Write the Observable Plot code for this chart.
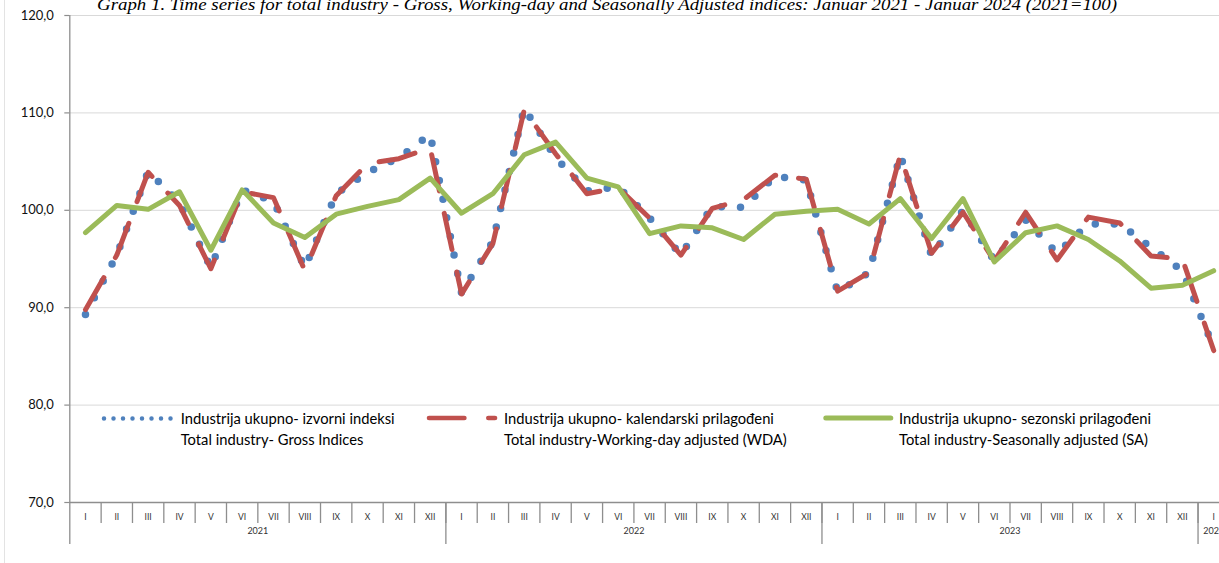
<!DOCTYPE html>
<html><head><meta charset="utf-8">
<script src="https://cdn.jsdelivr.net/npm/d3@7"></script>
<script src="https://cdn.jsdelivr.net/npm/@observablehq/plot@0.6"></script>
<style>
html,body{margin:0;padding:0;background:#fff;overflow:hidden;}
#wrap{position:relative;width:1219px;height:563px;overflow:hidden;font-family:Lato, "Liberation Sans", sans-serif;background:#fff;}
#title{position:absolute;left:0;top:0;height:0;z-index:2;}
#title span{position:absolute;left:96.7px;top:-4px;font:italic 17px/17px "Liberation Serif", serif;white-space:nowrap;transform-origin:0 0;color:#000;}
.leg{position:absolute;font-size:13.8px;line-height:21px;color:#000;white-space:nowrap;}
.leg span{display:inline-block;}
.sw{position:absolute;overflow:visible;}
#border{position:absolute;left:4px;top:0;width:1px;height:563px;background:#e3e3e3;z-index:2;}
#chart{position:absolute;left:0;top:0;}
</style></head><body>
<div id="wrap">
  <div id="chart"></div>
  <div id="border"></div>
  <div id="title"><span id="tt">Graph 1. Time series for total industry - Gross, Working-day and Seasonally Adjusted indices: Januar 2021 - Januar 2024 (2021=100)</span></div>
  <svg class="sw" style="left:100px;top:414px" width="80" height="9"><line x1="4" y1="4.5" x2="71" y2="4.5" stroke="#4f81bd" stroke-width="4.5" stroke-linecap="round" stroke-dasharray="0,9.5"/></svg>
  <div class="leg" style="left:180.7px;top:408px"><span id="l1">Industrija ukupno- izvorni indeksi</span><br>Total industry- Gross Indices</div>
  <svg class="sw" style="left:420px;top:413px" width="85" height="10"><line x1="9.05" y1="5" x2="75" y2="5" stroke="#c0504d" stroke-width="4.7" stroke-linecap="round" stroke-dasharray="35.3,24"/></svg>
  <div class="leg" style="left:504px;top:408px">Industrija ukupno- kalendarski prilagođeni<br>Total industry-Working-day adjusted (WDA)</div>
  <svg class="sw" style="left:815px;top:413px" width="85" height="10"><line x1="10.8" y1="5" x2="75.8" y2="5" stroke="#9bbb59" stroke-width="5" stroke-linecap="round"/></svg>
  <div class="leg" style="left:899px;top:408px">Industrija ukupno- sezonski prilagođeni<br>Total industry-Seasonally adjusted (SA)</div>
</div>
<script>
// ---- data ----
const months = ["I","II","III","IV","V","VI","VII","VIII","IX","X","XI","XII"];
const years = ["2021","2022","2023","2024"];
const gross = [89.3, 95.4, 104.0, 100.8, 94.1, 102.1, 100.9, 94.1, 101.7, 103.9, 105.4, 107.8,
               91.5, 96.8, 110.5, 105.4, 102.0, 102.4, 99.2, 95.4, 100.4, 100.3, 103.5, 103.1,
               91.6, 93.6, 105.7, 95.3, 100.0, 94.8, 99.0, 95.6, 98.6, 98.6, 96.2, 93.8,
               85.9];
const wda   = [89.8, 95.4, 103.9, 100.5, 94.0, 101.9, 101.3, 93.8, 101.5, 104.8, 105.3, 106.4,
               91.4, 96.6, 110.3, 105.8, 101.7, 102.3, 99.2, 95.4, 100.2, 101.1, 103.6, 103.2,
               91.7, 93.6, 105.7, 95.6, 99.8, 94.8, 99.8, 94.9, 99.3, 98.7, 95.3, 95.0,
               85.6];
const sa    = [97.7, 100.5, 100.1, 101.9, 95.9, 102.1, 98.7, 97.2, 99.6, 100.4, 101.1, 103.3,
               99.7, 101.7, 105.7, 107.0, 103.3, 102.4, 97.6, 98.4, 98.2, 97.0, 99.6, 99.9,
               100.1, 98.6, 101.2, 97.1, 101.2, 94.7, 97.7, 98.4, 97.0, 94.8, 92.0, 92.3,
               93.8];
const yTicks = [70, 80, 90, 100, 110, 120];

// ---- build table ----
const n = gross.length;
const rows = d3.range(n).map(i => ({t: i + 0.5, gross: gross[i], wda: wda[i], sa: sa[i]}));
const gridTicks = yTicks.slice(1);
const monthEdges = d3.range(1, n);
const yearEdges = d3.range(0, n, 12);
const monthCenters = d3.range(n).map(i => i + 0.5);
const yearCenters = years.map((y, k) => {
  const a = k * 12, b = Math.min(n, a + 12);
  return (a + b) / 2;
});
const axisColor = "#8e8e8e";

const chart = Plot.plot({
  width: 1219,
  height: 563,
  marginLeft: 69.3,
  marginRight: 0,
  marginTop: 15,
  marginBottom: 61,
  style: {fontFamily: "Lato, 'Liberation Sans', sans-serif", background: "#fff", color: "#000"},
  x: {type: "linear", domain: [0, n], range: [69.3, 69.3 + 31.34 * n], label: null},
  y: {domain: [70, 120], label: null},
  marks: [
    Plot.ruleY(gridTicks, {stroke: "#d9d9d9", strokeWidth: 1}),
    // month separators
    Plot.axisX({ticks: monthEdges, tickSize: 21, tickFormat: () => "", label: null, stroke: axisColor, strokeWidth: 1.3}),
    // year separators
    Plot.axisX({ticks: yearEdges, tickSize: 42, tickFormat: () => "", label: null, stroke: axisColor, strokeWidth: 1.3}),
    // month labels
    Plot.axisX({ticks: monthCenters, tickSize: 0, tickPadding: 11, fontSize: 8.5, fill: "#333", label: null,
                tickFormat: d => months[Math.floor(d) % 12]}),
    // year labels
    Plot.axisX({ticks: yearCenters, tickSize: 0, tickPadding: 25, fontSize: 9, fill: "#333", label: null,
                tickFormat: d => years[Math.floor(d / 12)]}),
    Plot.axisY({ticks: yTicks, tickSize: 5, tickPadding: 11, fontSize: 13, stroke: axisColor, strokeWidth: 1.2, fill: "#111", label: null,
                tickFormat: d => d.toFixed(1).replace(".", ",")}),
    Plot.ruleX([0], {y1: 70, y2: 120, stroke: axisColor, strokeWidth: 1.3}),
    Plot.ruleY([70], {stroke: axisColor, strokeWidth: 1.3}),
    Plot.line(rows, {x: "t", y: "gross", stroke: "#4f81bd", strokeWidth: 7.5,
                     strokeDasharray: "0,19", strokeLinecap: "round", strokeLinejoin: "round"}),
    Plot.line(rows, {x: "t", y: "wda", stroke: "#c0504d", strokeWidth: 5,
                     strokeDasharray: "37,23", strokeLinecap: "round", strokeLinejoin: "round"}),
    Plot.line(rows, {x: "t", y: "sa", stroke: "#9bbb59", strokeWidth: 5,
                     strokeLinecap: "round", strokeLinejoin: "round"})
  ]
});
document.getElementById("chart").appendChild(chart);

// fit title width to reference span
const tt = document.getElementById("tt");
const w = tt.getBoundingClientRect().width;
tt.style.transform = `scaleX(${1020 / w})`;

// fit legend font so the first legend line spans the reference width
const l1 = document.getElementById("l1");
const lw = l1.getBoundingClientRect().width;
const fs = 13.8 * 214 / lw;
document.querySelectorAll(".leg").forEach(el => el.style.fontSize = fs.toFixed(2) + "px");
</script>
</body></html>
